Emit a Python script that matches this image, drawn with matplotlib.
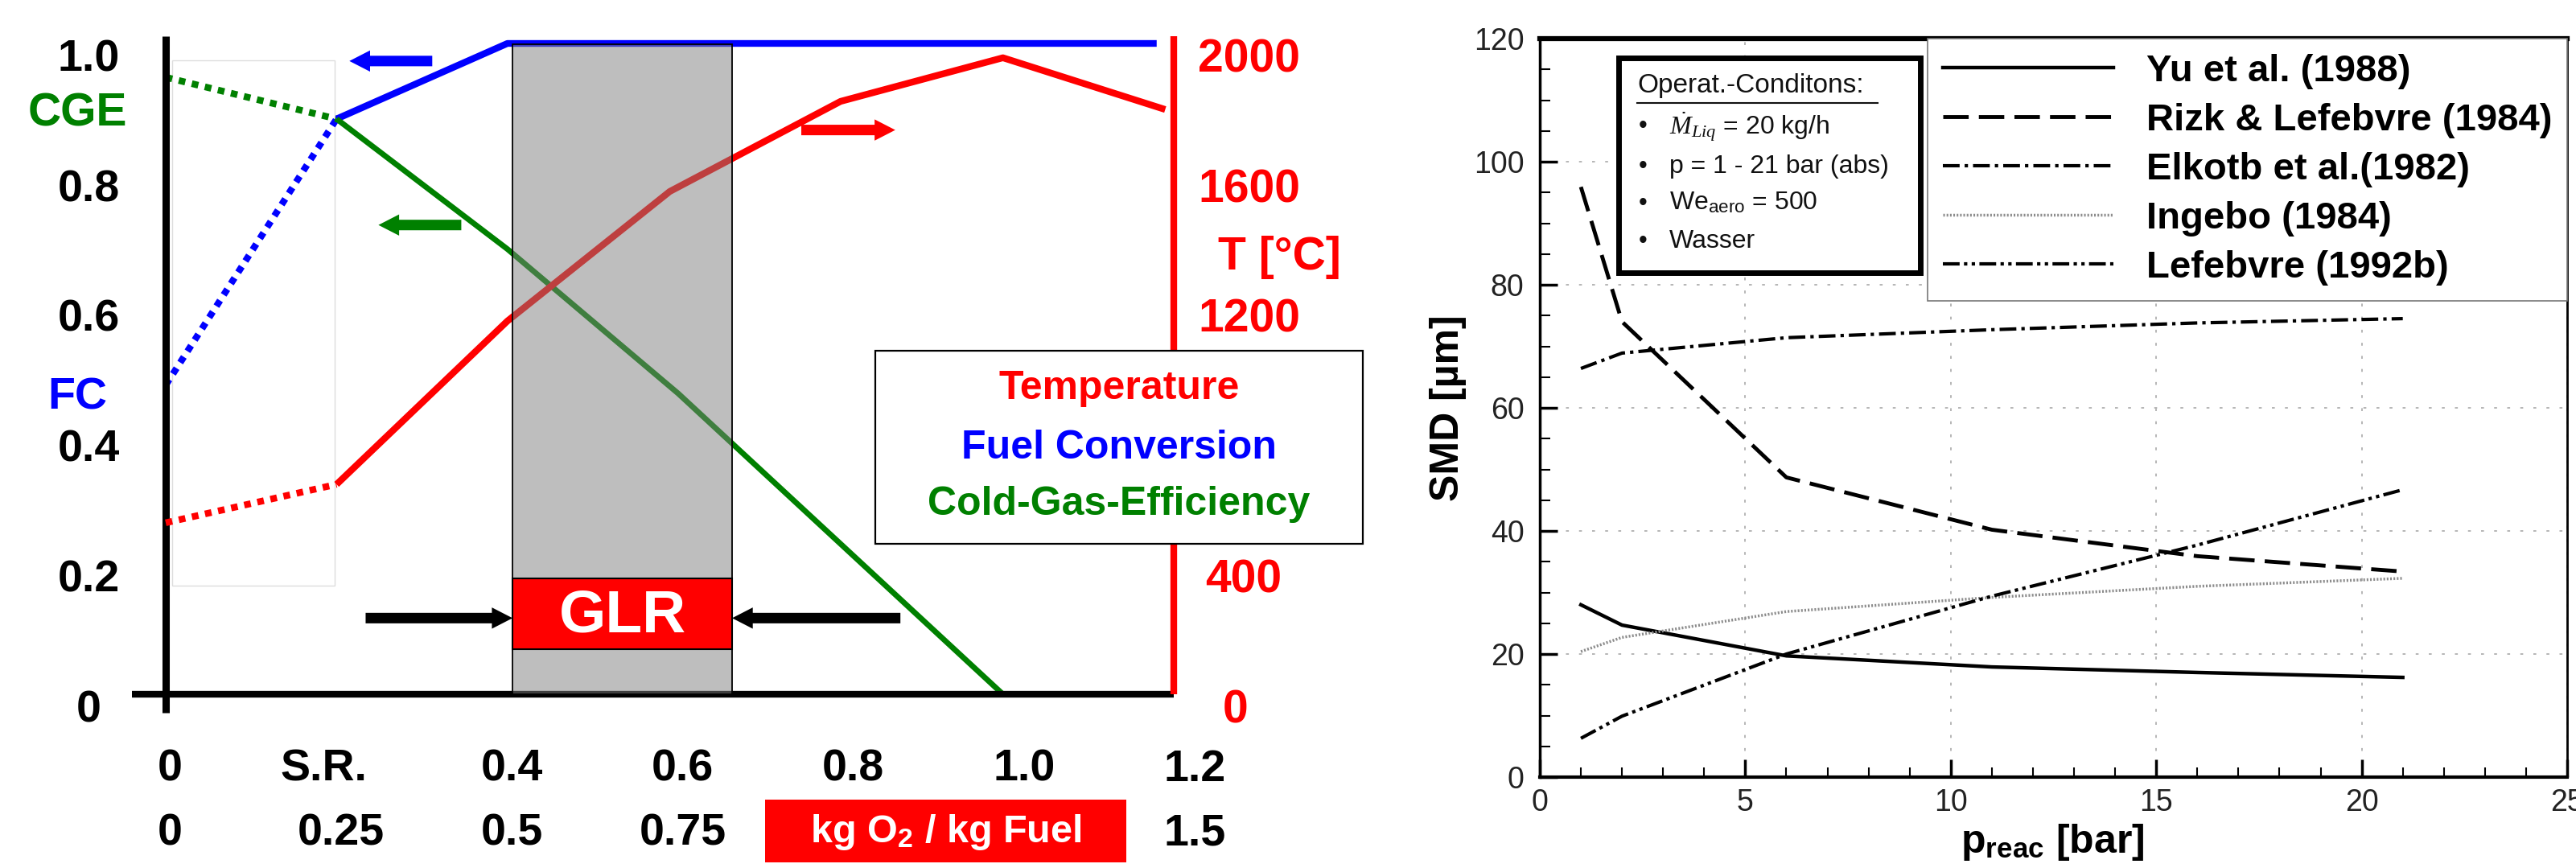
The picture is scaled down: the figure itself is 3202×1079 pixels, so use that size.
import matplotlib
matplotlib.use('Agg')
import matplotlib.pyplot as plt
from matplotlib.patches import Rectangle
from matplotlib.ticker import MultipleLocator

plt.rcParams['font.family'] = ['Liberation Sans', 'DejaVu Sans']
plt.rcParams['mathtext.fontset'] = 'custom'
plt.rcParams['mathtext.rm'] = 'Liberation Sans'
plt.rcParams['mathtext.bf'] = 'Liberation Sans:bold'
plt.rcParams['mathtext.it'] = 'Liberation Serif:italic'

# ---------------- Left panel data ----------------
sub_x = [0.0, 0.2]              # dotted part (below S.R.)
fc_sub = [0.475, 0.884]
cge_sub = [0.948, 0.884]
temp_sub = [527, 645]

fc_x = [0.2, 0.4, 1.16]
fc_val = [0.884, 1.0, 1.0]
cge_x = [0.2, 0.4, 0.6, 0.98, 1.17]
cge_val = [0.884, 0.684, 0.462, 0.0, 0.0]
temp_x = [0.2, 0.4, 0.59, 0.79, 0.98, 1.17]
temp_val = [645, 1147, 1545, 1822, 1956, 1797]

left_yticks = [0, 0.2, 0.4, 0.6, 0.8, 1.0]
left_yticklabels = ['0', '0.2', '0.4', '0.6', '0.8', '1.0']
temp_ticks = [0, 400, 1200, 1600, 2000]      # 800 is hidden behind the legend box
x_ticks_row1 = [0, 0.2, 0.4, 0.6, 0.8, 1.0, 1.2]
x_labels_row1 = ['0', 'S.R.', '0.4', '0.6', '0.8', '1.0', '1.2']
o2_ticks = [0, 0.25, 0.5, 0.75, 1.5]          # kg O2 / kg Fuel
o2_labels = ['0', '0.25', '0.5', '0.75', '1.5']
glr_range = [0.406, 0.663]

# ---------------- Right panel data ----------------
p_reac = [1, 2, 6, 11, 16, 21]
smd_yu = [28.0, 24.7, 19.7, 17.9, 17.0, 16.2]
smd_rizk = [95.9, 74.0, 48.7, 40.2, 35.9, 33.4]
smd_elkotb = [66.4, 68.9, 71.4, 72.7, 73.8, 74.5]
smd_ingebo = [20.4, 22.7, 26.9, 29.2, 31.0, 32.3]
smd_lefebvre = [6.3, 9.9, 20.0, 29.4, 37.7, 46.7]
series_labels = ['Yu et al. (1988)', 'Rizk & Lefebvre (1984)', 'Elkotb et al.(1982)',
                 'Ingebo (1984)', 'Lefebvre (1992b)']

W, H = 3202, 1079
fig = plt.figure(figsize=(W / 100, H / 100), dpi=100)


def fig_rect(x0, y0, x1, y1):
    return [x0 / W, 1 - y1 / H, (x1 - x0) / W, (y1 - y0) / H]


RED, BLUE, GREEN = '#FF0000', '#0000FF', '#008000'

# ================= LEFT PANEL =================
axL = fig.add_axes(fig_rect(206, 54, 1459, 863))
axL.set_xlim(0, 1.18)
axL.set_ylim(0, 1)
axL.axis('off')
axT = axL.twinx()
axT.set_ylim(0, 2000)
axT.axis('off')

dot = (0, (1, 1))
lw = 6
axL.plot(sub_x, fc_sub, color=BLUE, lw=lw, ls=dot, dash_capstyle='butt', clip_on=False, zorder=2)
axL.plot(sub_x, cge_sub, color=GREEN, lw=lw, ls=dot, dash_capstyle='butt', clip_on=False, zorder=2)
axL.plot(fc_x, fc_val, color=BLUE, lw=lw, clip_on=False, zorder=2, solid_capstyle='butt')
axL.plot(cge_x, cge_val, color=GREEN, lw=5, clip_on=False, zorder=2, solid_capstyle='butt')
axT.plot(sub_x, temp_sub, color=RED, lw=lw, ls=dot, dash_capstyle='butt', clip_on=False, zorder=2)
axT.plot(temp_x, temp_val, color=RED, lw=lw, clip_on=False, zorder=2, solid_capstyle='butt')

# axis lines
axL.plot([0, 0], [-0.028, 1.011], color='black', lw=6.5, clip_on=False, solid_capstyle='butt', zorder=3)
axL.plot([-0.04, 1.18], [0, 0], color='black', lw=6, clip_on=False, solid_capstyle='butt', zorder=3)
axL.plot([1.18, 1.18], [0, 1.011], color=RED, lw=6, clip_on=False, solid_capstyle='butt', zorder=3)

# faint rectangle over sub-stoichiometric region
axL.add_patch(Rectangle((0.0075, 0.167), 0.19, 0.807, fill=False, ec='#dddddd', lw=1, zorder=1))

# grey GLR region (overlay)
gbox = Rectangle((glr_range[0], 0), glr_range[1] - glr_range[0], 0.999,
                 fc=(126 / 255, 126 / 255, 126 / 255, 0.5), ec='black', lw=1.3,
                 transform=axL.transData, zorder=5)
axT.add_patch(gbox)
rbox = Rectangle((glr_range[0], 0.069), glr_range[1] - glr_range[0], 0.109,
                 fc=RED, ec='black', lw=1.5, transform=axL.transData, zorder=6)
axT.add_patch(rbox)
axT.text(0.535, 0.12, 'GLR', transform=axL.transData, color='white', fontsize=54,
         fontweight='bold', ha='center', va='center', zorder=7)


def arrow(ax, tail, tip, y, color):
    ax.annotate('', xy=(tip, y), xytext=(tail, y), xycoords='data', textcoords='data',
                arrowprops=dict(arrowstyle='simple,head_length=18.5,head_width=19,tail_width=9.4',
                                mutation_scale=1, color=color, lw=0, shrinkA=0, shrinkB=0),
                annotation_clip=False)


arrow(axL, 0.312, 0.215, 0.973, BLUE)
arrow(axL, 0.346, 0.249, 0.721, GREEN)
arrow(axL, 0.744, 0.854, 0.867, RED)
arrow(axL, 0.234, 0.406, 0.117, 'black')
arrow(axL, 0.860, 0.663, 0.117, 'black')

# left tick labels
for v, s in zip(left_yticks, left_yticklabels):
    axL.text(-0.090, v - 0.025, s, ha='center', va='center', fontsize=40,
             fontweight='bold', clip_on=False)
axL.text(-0.103, 0.892, 'CGE', color=GREEN, ha='center', va='center', fontsize=41, fontweight='bold')
axL.text(-0.103, 0.456, 'FC', color=BLUE, ha='center', va='center', fontsize=40, fontweight='bold')

# right (temperature) tick labels
for t in temp_ticks:
    s = str(t)
    xx = 1.268 if len(s) == 4 else (1.262 if len(s) == 3 else 1.252)
    axT.text(xx, t - 50, s, color=RED, ha='center', va='center', fontsize=41,
             fontweight='bold', clip_on=False, zorder=4)
axT.text(1.304, 1342, 'T [°C]', color=RED, ha='center', va='center', fontsize=41,
         fontweight='bold', clip_on=False, zorder=4)

# legend box
axT.add_patch(Rectangle((0.831, 0.231), 0.570, 0.297, fc='white', ec='black', lw=1.6,
                        transform=axL.transData, clip_on=False, zorder=8))
for yy, s, c in [(0.470, 'Temperature', RED), (0.378, 'Fuel Conversion', BLUE),
                 (0.292, 'Cold-Gas-Efficiency', GREEN)]:
    axT.text(1.116, yy, s, color=c, transform=axL.transData, ha='center', va='center',
             fontsize=36, fontweight='bold', zorder=9)

# x tick labels (two rows)
for v, s in zip(x_ticks_row1, x_labels_row1):
    xx = 0.185 if s == 'S.R.' else v + 0.005
    axL.text(xx, -0.116, s, ha='center', va='center', fontsize=40, fontweight='bold', clip_on=False)
for v, s in zip(o2_ticks, o2_labels):
    axL.text(v / 1.25 + 0.005, -0.215, s, ha='center', va='center', fontsize=40,
             fontweight='bold', clip_on=False)
axL.add_patch(Rectangle((0.702, -0.258), 0.422, 0.096, fc=RED, ec='none', clip_on=False))
axL.text(0.913, -0.212, 'kg O$_\\mathbf{2}$ / kg Fuel', color='white', ha='center', va='center',
         fontsize=35, fontweight='bold', clip_on=False)

# ================= RIGHT PANEL =================
axR = fig.add_axes(fig_rect(1914, 48, 3191, 966))
axR.set_xlim(0, 25)
axR.set_ylim(0, 120)
axR.set_axisbelow(True)

axR.plot(p_reac, smd_yu, color='black', lw=3.2, ls='-', label=series_labels[0])
axR.plot(p_reac, smd_rizk, color='black', lw=3.5, ls=(0, (6.5, 2.6)), label=series_labels[1])
axR.plot(p_reac, smd_elkotb, color='black', lw=3, ls=(0, (5, 1.5, 1, 1.5)), label=series_labels[2])
axR.plot(p_reac, smd_ingebo, color='#8c8c8c', lw=2.5, ls=(0, (0.6, 0.6)), label=series_labels[3])
axR.plot(p_reac, smd_lefebvre, color='black', lw=3, ls=(0, (5, 1.3, 1, 1.3, 1, 1.3)), label=series_labels[4])

axR.xaxis.set_major_locator(MultipleLocator(5))
axR.xaxis.set_minor_locator(MultipleLocator(1))
axR.yaxis.set_major_locator(MultipleLocator(20))
axR.yaxis.set_minor_locator(MultipleLocator(5))
axR.tick_params(which='major', direction='in', length=16, width=2.5, labelsize=27,
                labelcolor='#222222')
axR.tick_params(which='minor', direction='in', length=9, width=1.5)
axR.tick_params(axis='y', which='major', pad=14)
axR.tick_params(axis='x', which='major', pad=10)
axR.grid(True, which='major', color='#b0b0b0', ls=(0, (2, 7)), lw=1.3)

axR.spines['top'].set_linewidth(4.5)
axR.spines['bottom'].set_linewidth(3)
axR.spines['left'].set_linewidth(2.5)
axR.spines['right'].set_linewidth(2)

axR.set_ylabel('SMD [µm]', fontsize=36, fontweight='bold', va='center')
axR.yaxis.set_label_coords(-0.0893, 0.5)
axR.set_xlabel('p$_\\mathbf{reac}$ [bar]', fontsize=36, fontweight='bold', va='center')
axR.xaxis.set_label_coords(0.499, -0.088)

leg = axR.legend(loc='upper right', bbox_to_anchor=(1, 1), borderaxespad=0,
                 prop={'weight': 'bold', 'size': 34}, handlelength=4.5, handletextpad=0.85,
                 borderpad=0.4, labelspacing=0.36, fancybox=False, framealpha=1,
                 edgecolor='#777777')
leg.get_frame().set_linewidth(1.2)

# operating conditions inset
axR.add_patch(Rectangle((0.0767, 0.683), 0.2937, 0.291, transform=axR.transAxes,
                        fc='white', ec='black', lw=5, zorder=5))
axR.text(0.0948, 0.936, 'Operat.-Conditons:', transform=axR.transAxes, fontsize=24,
         ha='left', va='center', color='#111111', zorder=6)
axR.plot([0.0948, 0.329], [0.913, 0.913], transform=axR.transAxes, color='#111111', lw=1.5, zorder=6)
items = ['$\\dot{M}_{Liq}$ = 20 kg/h', 'p = 1 - 21 bar (abs)', 'We$_\\mathrm{aero}$ = 500', 'Wasser']
for yy, s in zip([0.881, 0.827, 0.777, 0.7255], items):
    axR.text(0.1002, yy, '•', transform=axR.transAxes, fontsize=22, ha='center', va='center',
             color='#111111', zorder=6)
    axR.text(0.126, yy, s, transform=axR.transAxes, fontsize=23, ha='left', va='center',
             color='#111111', zorder=6)

fig.savefig('out.png', dpi=100)
